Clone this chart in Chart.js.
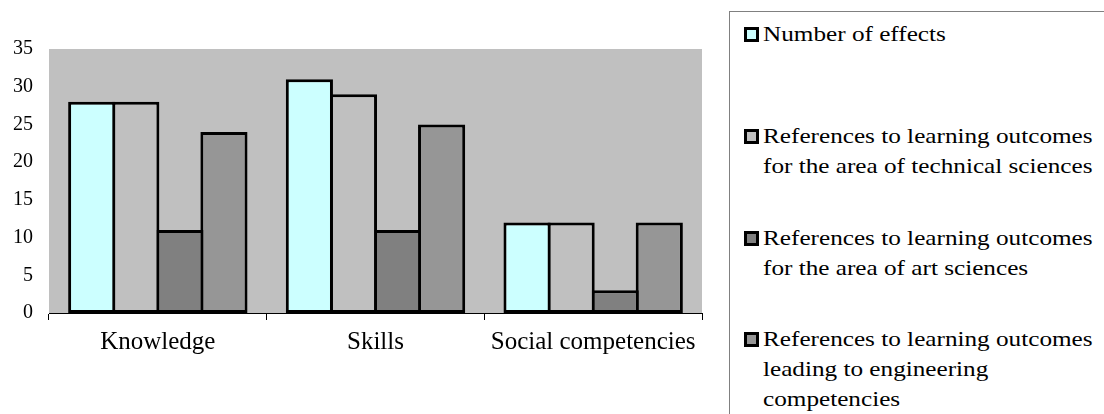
<!DOCTYPE html>
<html lang="en">
<head>
    <meta charset="UTF-8">
    <title>Learning outcomes</title>
    <script src="https://cdn.jsdelivr.net/npm/chart.js"></script>
    <style>
        body { margin: 0; background: #fff; font-family: "Liberation Serif", "Times New Roman", serif; }
        #wrap { position: absolute; left: 0; top: 0; width: 720px; height: 414px; }
        #legend { position: absolute; left: 729px; top: 11px; width: 400px; height: 420px;
                  border-left: 1px solid #808080; border-top: 1px solid #808080; }
        .item { position: absolute; left: 14px; font-size: 21px; line-height: 30px; color: #000; }
        .item .mark { position: absolute; left: 0; top: 8px; width: 9px; height: 9px;
                      border: 3px solid #000; }
        .item .txt { margin-left: 19px; white-space: nowrap; transform: scaleX(1.2); transform-origin: 0 0; }
    </style>
</head>
<body>
    <div id="wrap"><canvas id="chart"></canvas></div>
    <div id="legend"></div>
    <script>
        const categories = ['Knowledge', 'Skills', 'Social competencies'];
        const numberOfEffects = [28, 31, 12];
        const technicalSciences = [28, 29, 12];
        const artSciences = [11, 11, 3];
        const engineering = [24, 25, 12];
        const seriesLabels = [
            ['Number of effects'],
            ['References to learning outcomes', 'for the area of technical sciences'],
            ['References to learning outcomes', 'for the area of art sciences'],
            ['References to learning outcomes', 'leading to engineering', 'competencies']
        ];
        const colors = ['#CCFFFF', '#C0C0C0', '#808080', '#969696'];
        const yTicks = [0, 5, 10, 15, 20, 25, 30, 35];

        const series = [numberOfEffects, technicalSciences, artSciences, engineering];
        const serif = '"Liberation Serif", "Times New Roman", serif';

        // grey plot background
        const plotBg = {
            id: 'plotBg',
            beforeDraw(chart) {
                const a = chart.chartArea;
                const c = chart.ctx;
                c.save();
                c.fillStyle = '#C0C0C0';
                c.fillRect(a.left, a.top, a.right - a.left, a.bottom - a.top);
                c.restore();
            }
        };

        const ctx = document.getElementById('chart').getContext('2d');
        new Chart(ctx, {
            type: 'bar',
            data: {
                labels: categories,
                datasets: series.map((s, i) => ({
                    label: seriesLabels[i].join(' '),
                    data: s,
                    backgroundColor: colors[i],
                    borderColor: '#000',
                    borderWidth: 3,
                    borderSkipped: false,
                    inflateAmount: 0,
                    barPercentage: 1.07,
                    categoryPercentage: 0.81
                }))
            },
            options: {
                responsive: true,
                maintainAspectRatio: false,
                animation: false,
                layout: { padding: { top: 49, right: 18, left: 0, bottom: 0 } },
                plugins: { legend: { display: false }, tooltip: { enabled: false } },
                scales: {
                    x: {
                        grid: { offset: true, drawOnChartArea: false, color: '#000', tickLength: 7 },
                        border: { color: '#000', width: 1 },
                        ticks: { color: '#000', padding: 7, font: { family: serif, size: 25 } },
                        afterFit(s) { s.height = 101; }
                    },
                    y: {
                        min: 0,
                        max: 35,
                        afterBuildTicks(s) { s.ticks = yTicks.map(v => ({ value: v })); },
                        grid: { display: false, drawTicks: false },
                        border: { display: false },
                        ticks: { color: '#000', padding: 16, font: { family: serif, size: 20 } },
                        afterFit(s) { s.width = 49; }
                    }
                }
            },
            plugins: [plotBg]
        });

        const tops = [18, 120, 222, 323];
        const legend = document.getElementById('legend');
        seriesLabels.forEach((lines, i) => {
            const d = document.createElement('div');
            d.className = 'item';
            d.style.top = tops[i] - 11 + 'px';
            d.innerHTML = '<span class="mark" style="background:' + colors[i] + '"></span>' +
                '<div class="txt">' + lines.join('<br>') + '</div>';
            legend.appendChild(d);
        });
    </script>
</body>
</html>
